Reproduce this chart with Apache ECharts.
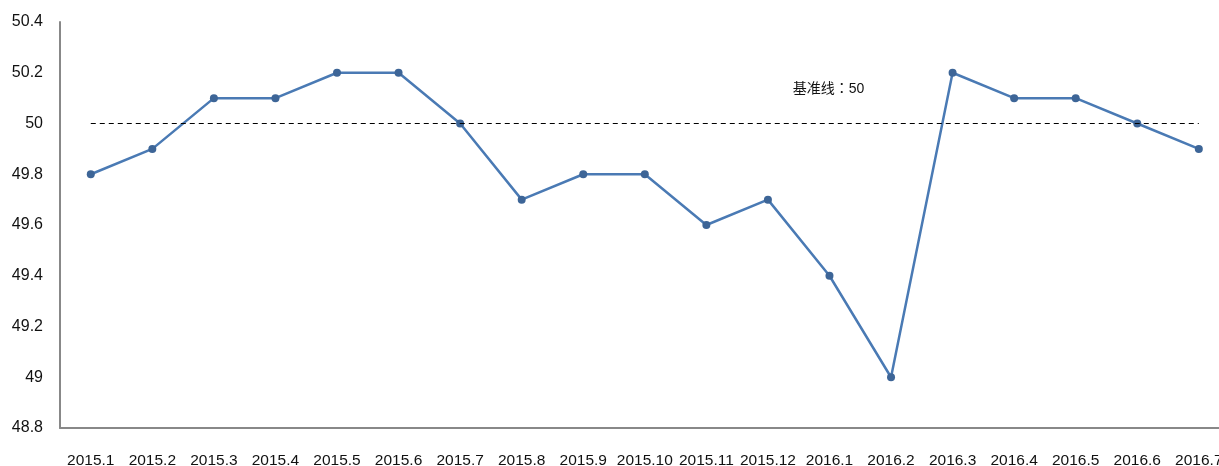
<!DOCTYPE html>
<html>
<head>
<meta charset="utf-8">
<script src="https://cdn.jsdelivr.net/npm/echarts@6/dist/echarts.min.js"></script>
<style>
  html, body { margin: 0; padding: 0; background: #fff; }
  #chart { width: 1219px; height: 466px; }
</style>
</head>
<body>
<div id="chart"></div>
<script>
const months = ['2015.1', '2015.2', '2015.3', '2015.4', '2015.5', '2015.6', '2015.7', '2015.8', '2015.9', '2015.10',
  '2015.11', '2015.12', '2016.1', '2016.2', '2016.3', '2016.4', '2016.5', '2016.6', '2016.7']
const pmiValues = [49.8, 49.9, 50.1, 50.1, 50.2, 50.2, 50.0, 49.7, 49.8, 49.8,
  49.6, 49.7, 49.4, 49.0, 50.2, 50.1, 50.1, 50.0, 49.9]
const baseline = 50
const baselineText = '基准线：50'

const chart = echarts.init(document.getElementById('chart'))
const font = 'Liberation Sans, Arial, Noto Sans CJK SC, sans-serif'
const option = {
  animation: false,
  grid: { left: 60, right: -10.6, top: 22, bottom: 38, outerBoundsMode: 'none', containLabel: false },
  xAxis: {
    type: 'category',
    data: months,
    boundaryGap: true,
    axisLine: { lineStyle: { color: '#888', width: 2 } },
    axisTick: { show: false },
    axisLabel: { color: '#111', fontSize: 15.5, fontFamily: font, margin: 25, interval: 0 }
  },
  yAxis: {
    type: 'value',
    min: 48.8,
    max: 50.4,
    interval: 0.2,
    axisLine: { show: true, lineStyle: { color: '#888', width: 2 } },
    axisTick: { show: false },
    splitLine: { show: false },
    axisLabel: {
      color: '#111', fontSize: 16, fontFamily: font, margin: 17,
      formatter: v => String(parseFloat(v.toFixed(1)))
    }
  },
  series: [{
    type: 'line',
    data: pmiValues,
    symbol: 'circle',
    symbolSize: 8,
    lineStyle: { color: '#4a7ab4', width: 2.5 },
    itemStyle: { color: '#3d6597' },
    markLine: {
      silent: true,
      symbol: 'none',
      lineStyle: { color: '#000', type: [5, 4], width: 1 },
      label: { show: false },
      data: [[{ coord: [0, baseline] }, { coord: [months.length - 1, baseline] }]]
    },
    markPoint: {
      silent: true,
      symbol: 'circle',
      symbolSize: 0,
      data: [{ coord: ['2016.1', baseline] }],
      itemStyle: { color: 'transparent' },
      label: {
        show: true,
        position: 'inside',
        formatter: baselineText,
        color: '#111',
        fontSize: 14,
        fontFamily: 'Liberation Sans, Noto Sans CJK JP, sans-serif',
        offset: [-1, -34]
      }
    }
  }]
}
chart.setOption(option)
</script>
</body>
</html>
